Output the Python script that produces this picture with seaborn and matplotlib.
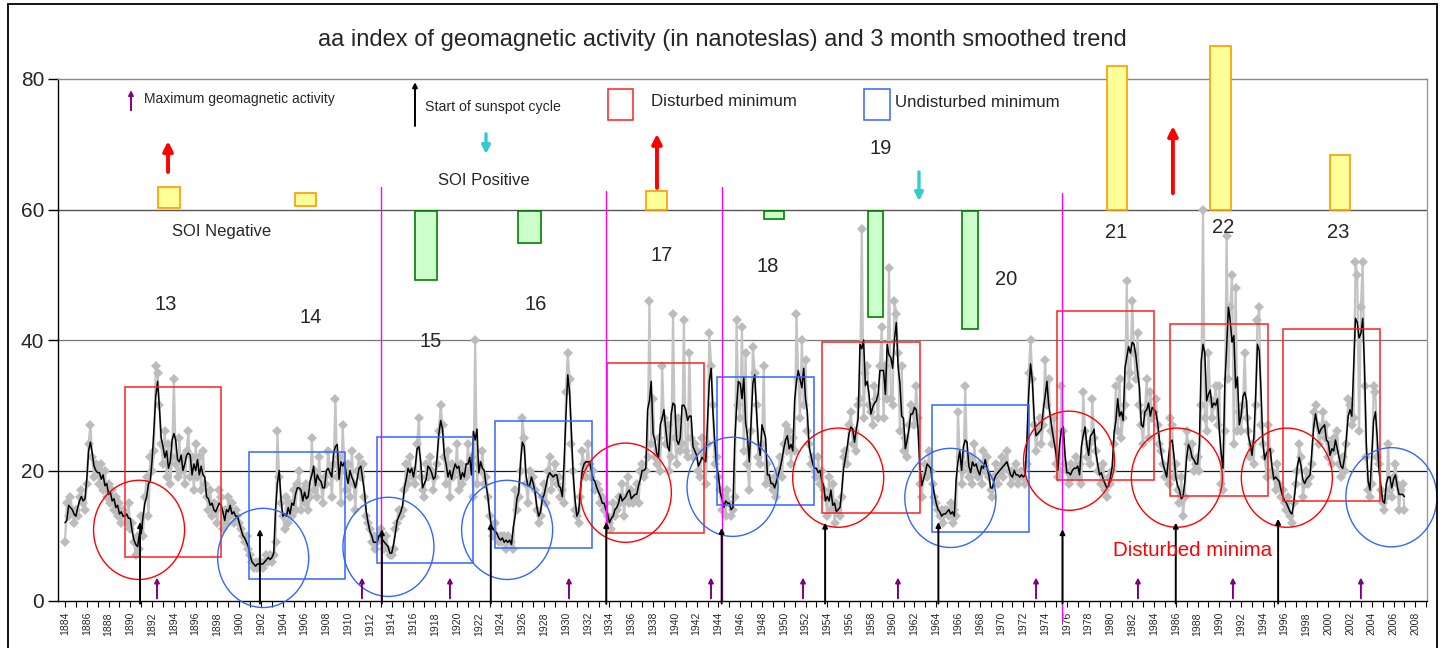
import numpy as np
import pandas as pd
import matplotlib
matplotlib.use("Agg")
import matplotlib.pyplot as plt
import seaborn as sns
from matplotlib.patches import Rectangle, Ellipse

# ---------------- data (aa index, nT, 6 samples per year) -------------
aa_1884_1893 = [9, 15, 13, 16, 14, 12,  14, 13, 16, 17, 15, 14,  18, 24, 27, 22, 19, 21,
                20, 18, 21, 17, 20, 16,  18, 15, 17, 14, 16, 13,  15, 12, 14, 13, 12, 15,
                11, 12, 9, 7, 10, 8,  13, 10, 16, 19, 13, 22,  20, 23, 36, 35, 30, 24,
                21, 26, 19, 24, 18, 22]
aa_1894_1903 = [34, 21, 19, 25, 20, 22,  18, 23, 26, 19, 22, 17,  24, 19, 22, 17, 23, 18,
                16, 14, 17, 13, 15, 14,  12, 17, 16, 11, 14, 12,  16, 13, 15, 12, 14, 13,
                12, 11, 10, 9, 10, 8,  7, 6, 5, 6, 5, 6,  6, 5, 6, 7, 6, 7,
                6, 7, 9, 26, 19, 15]
aa_1904_1913 = [13, 11, 16, 12, 15, 13,  17, 14, 18, 20, 14, 17,  15, 18, 14, 16, 25, 17,
                20, 16, 22, 18, 15, 19,  18, 23, 20, 16, 21, 31,  19, 22, 15, 27, 20, 17,
                21, 16, 23, 18, 14, 20,  22, 19, 21, 16, 13, 12,  11, 9, 10, 8, 9, 10,
                11, 9, 8, 10, 8, 7]
aa_1914_1923 = [7, 8, 11, 12, 14, 13,  14, 17, 21, 18, 22, 19,  20, 18, 24, 28, 19, 17,
                16, 21, 19, 22, 20, 17,  19, 21, 26, 30, 27, 22,  18, 23, 16, 21, 19, 20,
                24, 17, 21, 18, 20, 19,  24, 20, 22, 16, 40, 18,  21, 20, 23, 18, 19, 16,
                13, 11, 10, 12, 10, 9]
aa_1924_1933 = [10, 9, 10, 8, 10, 9,  9, 8, 17, 14, 16, 20,  28, 25, 18, 15, 20, 18,
                19, 17, 14, 12, 13, 16,  18, 15, 20, 22, 17, 19,  21, 18, 19, 16, 17, 15,
                32, 38, 34, 24, 20, 14,  13, 12, 16, 23, 21, 19,  24, 21, 19, 20, 17, 18,
                17, 15, 16, 14, 15, 13]
aa_1934_1943 = [12, 11, 15, 13, 14, 16,  15, 18, 13, 16, 19, 15,  17, 15, 16, 18, 15, 20,
                21, 19, 20, 22, 46, 24,  31, 22, 21, 25, 20, 36,  28, 24, 27, 20, 22, 44,
                25, 21, 28, 23, 24, 43,  23, 22, 38, 25, 22, 24,  23, 20, 19, 25, 22, 18,
                24, 41, 36, 30, 21, 22]
aa_1944_1953 = [19, 17, 14, 16, 13, 17,  15, 13, 14, 16, 43, 30,  28, 42, 23, 38, 21, 17,
                26, 39, 35, 30, 22, 21,  24, 36, 18, 21, 19, 18,  17, 19, 16, 20, 22, 19,
                24, 27, 23, 26, 21, 25,  23, 44, 34, 28, 40, 30,  37, 26, 24, 21, 22, 20,
                19, 22, 18, 20, 17, 16]
aa_1954_1963 = [13, 19, 14, 18, 12, 15,  14, 13, 16, 22, 23, 21,  27, 29, 24, 26, 23, 30,
                31, 57, 28, 35, 36, 30,  29, 27, 33, 31, 28, 36,  42, 28, 36, 31, 51, 31,
                30, 46, 44, 38, 26, 36,  23, 25, 22, 27, 30, 29,  27, 33, 28, 18, 16, 19,
                21, 19, 23, 20, 18, 16]
aa_1964_1973 = [15, 14, 13, 14, 12, 14,  14, 13, 15, 12, 14, 13,  29, 22, 18, 20, 33, 21,
                19, 22, 18, 24, 20, 19,  21, 18, 23, 20, 22, 19,  17, 16, 19, 21, 18, 20,
                22, 19, 21, 23, 20, 18,  20, 19, 21, 18, 19, 20,  19, 18, 21, 35, 40, 34,
                27, 23, 26, 28, 24, 27]
aa_1974_1983 = [37, 30, 34, 26, 24, 28,  21, 19, 20, 33, 26, 21,  20, 18, 21, 19, 20, 22,
                19, 21, 18, 32, 26, 22,  24, 21, 31, 25, 23, 20,  20, 18, 21, 17, 16, 19,
                18, 20, 24, 33, 26, 34,  25, 28, 30, 49, 33, 35,  46, 38, 34, 41, 30, 27,
                24, 29, 34, 25, 32, 28]
aa_1984_1993 = [29, 31, 27, 24, 23, 21,  19, 20, 18, 28, 27, 19,  21, 17, 15, 19, 13, 16,
                26, 24, 22, 24, 20, 21,  22, 20, 30, 60, 28, 26,  38, 31, 28, 30, 33, 27,
                33, 18, 17, 26, 56, 34,  45, 50, 24, 48, 26, 29,  26, 30, 38, 28, 26, 22,
                24, 21, 30, 43, 45, 27]
aa_1994_2003 = [24, 22, 19, 27, 23, 20,  19, 17, 21, 18, 16, 17,  15, 14, 16, 13, 12, 15,
                18, 20, 24, 22, 16, 18,  20, 18, 19, 21, 29, 30,  27, 24, 26, 29, 25, 27,
                22, 24, 21, 25, 23, 26,  21, 19, 22, 20, 24, 31,  30, 27, 28, 52, 50, 26,
                45, 52, 33, 22, 17, 16]
aa_2004_2007 = [18, 33, 32, 22, 21, 17,  15, 14, 16, 24, 17, 16,  19, 21, 18, 14, 17, 18,
                14]
first_year = 1884
samples_per_year = 6

# sunspot cycle numbers
cycle_numbers = ["13", "14", "15", "16", "17", "18", "19", "20", "21", "22", "23"]
# SOI negative (yellow) and positive (green) bars: year span and extent (nT scale)
soi_neg_start = [1892.54, 1905.12, 1937.35, 1979.68, 1989.14, 2000.16]
soi_neg_end = [1894.56, 1907.05, 1939.28, 1981.52, 1991.07, 2002.00]
soi_neg_low = [60.2, 60.5, 60.0, 60.0, 60.0, 60.0]
soi_neg_high = [63.4, 62.5, 62.9, 82.0, 85.1, 68.3]
soi_pos_start = [1916.14, 1925.60, 1948.19, 1957.74, 1966.37]
soi_pos_end = [1918.16, 1927.70, 1950.03, 1959.11, 1967.84]
soi_pos_low = [49.2, 54.9, 58.5, 43.5, 41.7]
# events
cycle_start_years = [1890.89, 1901.9, 1913.1, 1923.1, 1933.7, 1944.3, 1953.8, 1964.2,
                     1975.6, 1986.0, 1995.4]
max_activity_years = [1892.45, 1911.27, 1919.35, 1930.28, 1943.32, 1951.77, 1960.49,
                      1973.17, 1982.53, 1991.25, 2003.0]
magenta_years = [1913.02, 1933.7, 1944.33, 1975.55]
# minima boxes (year start, year end, low, high)
disturbed_start = [1889.51, 1933.77, 1953.50, 1975.10, 1985.47, 1995.85]
disturbed_end = [1898.33, 1942.68, 1962.50, 1984.00, 1994.47, 2004.75]
disturbed_low = [6.7, 10.4, 13.5, 18.5, 16.1, 15.3]
disturbed_high = [32.8, 36.5, 39.7, 44.4, 42.4, 41.7]
undisturbed_start = [1900.9, 1912.65, 1923.5, 1943.87, 1963.6]
undisturbed_end = [1909.7, 1921.47, 1932.4, 1952.78, 1972.5]
undisturbed_low = [3.4, 5.8, 8.1, 14.7, 10.6]
undisturbed_high = [22.8, 25.1, 27.6, 34.3, 30.0]
# minimum circles (centre year, centre value, kind)
circle_year = [1890.8, 1902.2, 1913.7, 1924.6, 1935.5, 1945.3, 1955.0, 1965.3, 1976.2,
               1986.1, 1996.2, 2005.8]
circle_value = [10.9, 6.6, 8.3, 10.9, 16.6, 17.5, 18.9, 15.8, 21.5, 18.9, 18.9, 15.9]
circle_kind = ["d", "u", "u", "u", "d", "u", "d", "u", "d", "d", "d", "u"]

# ---------------- build series ----------------
aa = np.array(aa_1884_1893 + aa_1894_1903 + aa_1904_1913 + aa_1914_1923 + aa_1924_1933
              + aa_1934_1943 + aa_1944_1953 + aa_1954_1963 + aa_1964_1973 + aa_1974_1983
              + aa_1984_1993 + aa_1994_2003 + aa_2004_2007, dtype=float)
years = first_year + np.arange(len(aa)) / samples_per_year
df = pd.DataFrame({"year": years, "aa": aa})
df["smooth"] = df["aa"].rolling(3, center=True, min_periods=1).mean()

# ---------------- style ----------------
sns.set_theme(style="white")
plt.rcParams["font.family"] = ["Liberation Sans", "DejaVu Sans"]

W, H = 1444, 648
fig = plt.figure(figsize=(W / 100, H / 100), dpi=100)
ax = fig.add_axes([58 / W, 47 / H, (1427 - 58) / W, (601 - 79) / H])
ax.set_xlim(1883.357, 2009.07)
ax.set_ylim(0, 80)

# grid lines
ax.axhline(20, color="#1a1a1a", lw=0.9, zorder=0.5)
ax.axhline(40, color="#777777", lw=0.9, zorder=0.5)
ax.axhline(60, color="#555555", lw=1.0, zorder=0.5)

sns.lineplot(data=df, x="year", y="aa", ax=ax, color="#c4c4c4", lw=1.6,
             marker="D", markersize=5.5, markeredgewidth=0, markerfacecolor="#bcbcbc",
             errorbar=None, zorder=2)
sns.lineplot(data=df, x="year", y="smooth", ax=ax, color="black", lw=1.1,
             errorbar=None, zorder=3)
ax.set_xlabel("")
ax.set_ylabel("")

# spines / ticks
for s in ["left", "bottom"]:
    ax.spines[s].set_color("black")
    ax.spines[s].set_linewidth(1.0)
ax.spines["top"].set_color("#888888")
ax.spines["right"].set_color("#999999")
ax.spines["top"].set_linewidth(1.0)
ax.spines["right"].set_linewidth(1.0)

ax.set_yticks([0, 20, 40, 60, 80])
ax.set_yticklabels(["0", "20", "40", "60", "80"], fontsize=15)
ax.tick_params(axis="y", left=True, direction="out", length=7, width=1, color="black", pad=3)
major = np.arange(1884, 2009, 2)
ax.set_xticks(major)
ax.set_xticklabels([str(y) for y in major], rotation=90, fontsize=7.5)
ax.set_xticks(np.arange(1884, 2010, 1), minor=True)
ax.tick_params(axis="x", which="both", bottom=True, direction="out", length=4,
               width=0.8, color="black", pad=4)

# SOI bars
for x0, x1, lo, hi in zip(soi_neg_start, soi_neg_end, soi_neg_low, soi_neg_high):
    ax.add_patch(Rectangle((x0, lo), x1 - x0, hi - lo, facecolor="#ffff99",
                           edgecolor="#ff9900", lw=1.2, zorder=5, clip_on=False))
for x0, x1, lo in zip(soi_pos_start, soi_pos_end, soi_pos_low):
    ax.add_patch(Rectangle((x0, lo), x1 - x0, 59.8 - lo, facecolor="#ccffcc",
                           edgecolor="#008000", lw=1.2, zorder=5))

# boxes
for x0, x1, lo, hi in zip(disturbed_start, disturbed_end, disturbed_low, disturbed_high):
    ax.add_patch(Rectangle((x0, lo), x1 - x0, hi - lo, fill=False, edgecolor="#ff2020",
                           lw=1.1, zorder=4))
for x0, x1, lo, hi in zip(undisturbed_start, undisturbed_end, undisturbed_low, undisturbed_high):
    ax.add_patch(Rectangle((x0, lo), x1 - x0, hi - lo, fill=False, edgecolor="#3366ff",
                           lw=1.1, zorder=4))
for cx, cy, k in zip(circle_year, circle_value, circle_kind):
    ax.add_patch(Ellipse((cx, cy), 8.36, 15.2, fill=False,
                         edgecolor="#ff0000" if k == "d" else "#3366ff",
                         lw=1.0, zorder=4, clip_on=False))

# magenta lines
magenta_tops = [63.4, 62.8, 63.4, 62.5]
magenta_bottoms = [0, -0.5, 0, -2.9]
for x, t, b in zip(magenta_years, magenta_tops, magenta_bottoms):
    ax.plot([x, x], [b, t], color="#ff00ff", lw=1.0, zorder=4, clip_on=False)


def arrow(x, y_from, y_to, color, lw, ms):
    ax.annotate("", xy=(x, y_to), xytext=(x, y_from),
                arrowprops=dict(arrowstyle="-|>", color=color, lw=lw, mutation_scale=ms,
                                shrinkA=0, shrinkB=0),
                annotation_clip=False, zorder=6)


cycle_tops = [12.1, 11.0, 11.0, 12.0, 12.1, 11.2, 12.0, 12.1, 11.0, 12.0, 12.6]
for x, t in zip(cycle_start_years, cycle_tops):
    arrow(x, -0.4, t, "black", 1.4, 7)
for x in max_activity_years:
    arrow(x, 0.4, 3.6, "#800080", 1.4, 7)

# red & cyan arrows
for x, a, b in [(1893.46, 65.75, 70.5), (1938.36, 63.3, 71.6), (1985.74, 62.5, 72.8)]:
    arrow(x, a, b, "#ff0000", 2.8, 14)
for x, a, b in [(1922.66, 71.6, 68.5), (1962.42, 65.75, 61.3)]:
    arrow(x, a, b, "#33cccc", 2.4, 12)

# legend-like annotations
arrow(1890.06, 75.2, 78.3, "#800080", 1.4, 7)
ax.text(1891.25, 76.9, "Maximum geomagnetic activity", fontsize=10, ha="left",
        va="center", zorder=6)
arrow(1916.14, 72.8, 79.5, "black", 1.4, 7)
ax.text(1917.06, 75.7, "Start of sunspot cycle", fontsize=10.2, ha="left", va="center",
        zorder=6)
ax.add_patch(Rectangle((1933.86, 73.7), 2.3, 4.8, fill=False, edgecolor="#ff2020", lw=1.1))
ax.text(1937.81, 76.5, "Disturbed minimum", fontsize=12.2, ha="left", va="center")
ax.add_patch(Rectangle((1957.37, 73.7), 2.39, 4.8, fill=False, edgecolor="#3366ff", lw=1.1))
ax.text(1960.2, 76.4, "Undisturbed minimum", fontsize=12.2, ha="left", va="center")

ax.text(1898.4, 56.7, "SOI Negative", fontsize=12, ha="center", va="center")
ax.text(1922.5, 64.5, "SOI Positive", fontsize=12, ha="center", va="center")
ax.text(1987.5, 7.7, "Disturbed minima", fontsize=14.8, color="#ff0000", ha="center",
        va="center", zorder=6)

label_year = [1893.27, 1906.6, 1917.6, 1927.25, 1938.8, 1948.55, 1958.93, 1970.4,
              1980.5, 1990.33, 2000.9]
label_value = [45.4, 43.5, 39.8, 45.4, 53.0, 51.2, 69.3, 49.3, 56.4, 57.3, 56.4]
for t, x, y in zip(cycle_numbers, label_year, label_value):
    ax.text(x, y, t, fontsize=14.5, ha="center", va="center", zorder=6)

fig.text(0.5, 1 - 40 / H,
         "aa index of geomagnetic activity (in nanoteslas) and 3 month smoothed trend",
         ha="center", va="center", fontsize=17)

# outer frame
fig.add_artist(Rectangle((8 / W, -0.01), (1437 - 8) / W, 1 - 4 / H + 0.01,
                         transform=fig.transFigure, fill=False, edgecolor="black", lw=1.3))

fig.savefig("out.png", dpi=100)
